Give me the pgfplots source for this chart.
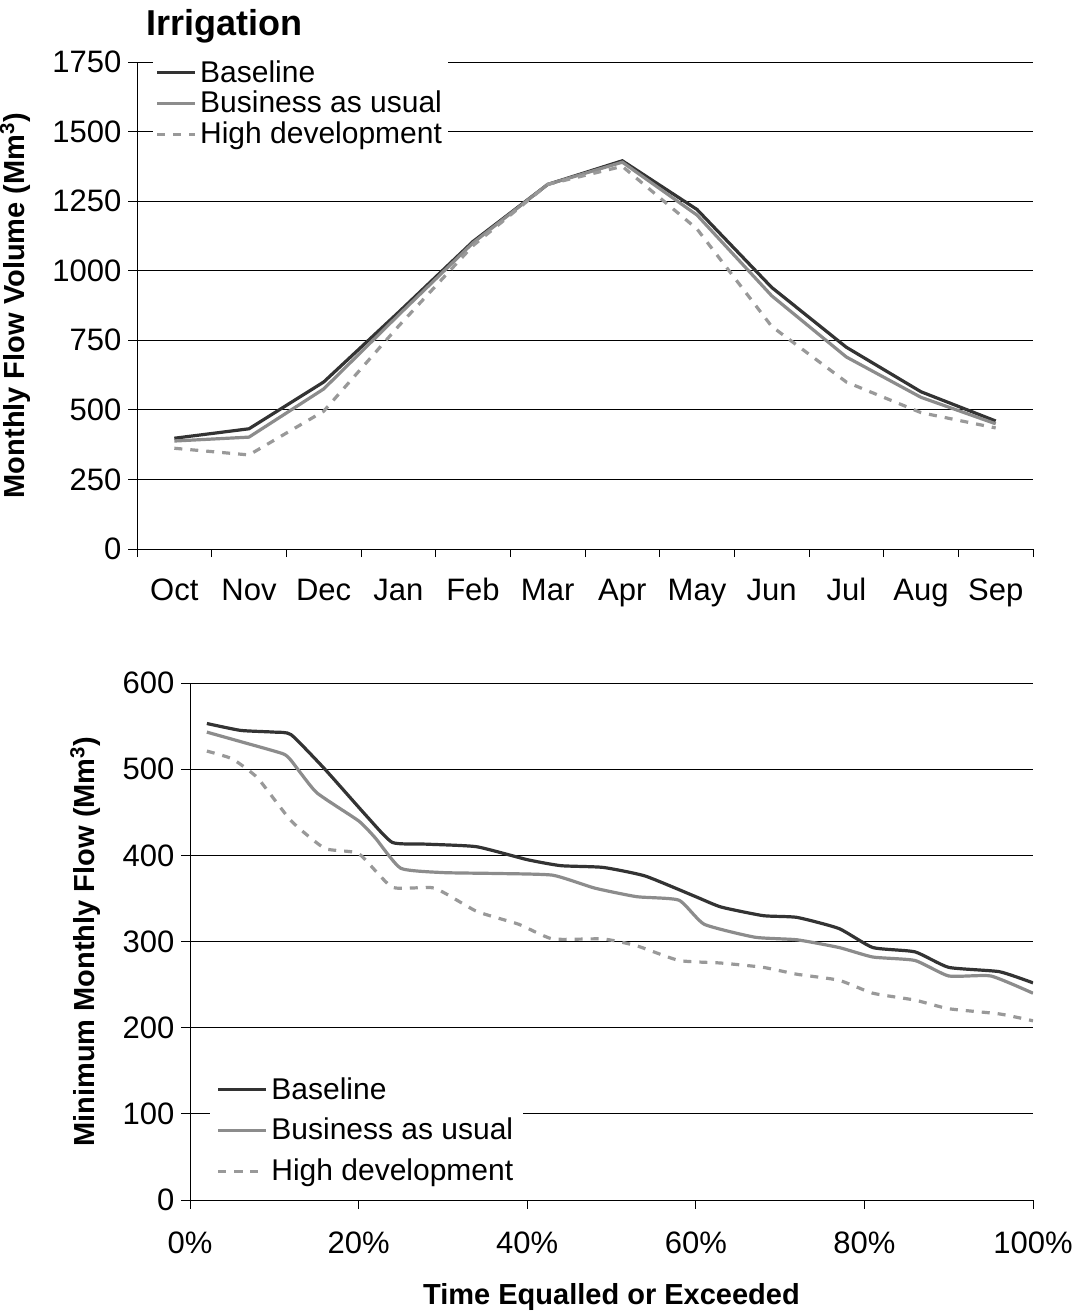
\documentclass[border=0pt]{standalone}
\usepackage{fontspec}
\setmainfont{Liberation Sans}
\usepackage{pgfplots}
\pgfplotsset{compat=1.18}
\begin{document}
\begin{tikzpicture}
\path[use as bounding box] (0pt,0pt) rectangle (539.5pt,-657.5pt);
\pgfplotsset{
  common/.style={
    scale only axis, axis x line*=bottom, axis y line*=left,
    ymajorgrids, major grid style={black,line width=0.4pt},
    tick align=outside, tick style={black,line width=0.4pt},
    axis line style={black,line width=0.4pt},
    ticklabel style={font=\fontsize{15.5}{17}\selectfont},
    /pgf/number format/assume math mode=true,
    /pgf/number format/1000 sep={},
    legend style={draw=none,fill=white,font=\fontsize{15}{16}\selectfont, row sep=-1pt},
    legend cell align=left,
  },
  bl/.style={line width=1.6pt,color=black!80},
  bu/.style={line width=1.6pt,color=black!45},
  hd/.style={line width=1.6pt,color=black!40,dash pattern=on 4pt off 4pt},
}
\begin{axis}[common, at={(68.5pt,-274.5pt)}, anchor=south west,
  width=448pt, height=243.5pt,
  xmin=-0.5, xmax=11.5, ymin=0, ymax=1750,
  ytick={0,250,...,1750},
  xtick={0,...,11}, major x tick style={draw=none},
  xticklabels={Oct,Nov,Dec,Jan,Feb,Mar,Apr,May,Jun,Jul,Aug,Sep},
  minor xtick={-0.5,0.5,...,11.5}, minor tick length=4pt,
  xticklabel style={yshift=-8pt, text height=10pt, text depth=3pt},
  ylabel={\textbf{Monthly Flow Volume (Mm\textsuperscript{3})}},
  ylabel style={font=\fontsize{14.5}{16}\selectfont, yshift=4pt},
  title={\textbf{Irrigation}}, title style={font=\fontsize{18}{20}\selectfont, at={(0,1)}, anchor=south west, xshift=1pt, yshift=0pt},
  legend style={at={(0.0,1.0)},anchor=north west, xshift=8pt,yshift=4pt, inner sep=1pt},
  legend image post style={xscale=1.1},
]
\addplot[bl] coordinates {(0,398)(1,432)(2,600)(3,850)(4,1105)(5,1310)(6,1395)(7,1220)(8,940)(9,725)(10,565)(11,460)};
\addplot[bu] coordinates {(0,388)(1,402)(2,575)(3,840)(4,1100)(5,1310)(6,1390)(7,1200)(8,910)(9,690)(10,545)(11,450)};
\addplot[hd] coordinates {(0,362)(1,338)(2,495)(3,800)(4,1090)(5,1310)(6,1375)(7,1150)(8,800)(9,600)(10,490)(11,435)};
\legend{Baseline,Business as usual,High development}
\end{axis}
\begin{axis}[common, at={(95pt,-600pt)}, anchor=south west,
  width=421.5pt, height=258.5pt,
  xmin=0, xmax=100, ymin=0, ymax=600,
  ytick={0,100,...,600}, xtick={0,20,...,100},
  xticklabel={\pgfmathprintnumber{\tick}\%},
  xticklabel style={yshift=-8pt},
  ylabel={\textbf{Minimum Monthly Flow (Mm\textsuperscript{3})}},
  ylabel style={font=\fontsize{14.5}{16}\selectfont, yshift=4pt},
  xlabel={\textbf{Time Equalled or Exceeded}},
  xlabel style={font=\fontsize{14.5}{16}\selectfont, yshift=-8pt},
  legend style={at={(0.0,0.0)},anchor=south west, xshift=10pt,yshift=4pt, row sep=4pt},
  legend image post style={xscale=1.4},
]
\addplot[bl,smooth,tension=0.3] coordinates {(2,553)(6,545)(10,543)(12,540)(16,500)(21,445)(24,415)(28,413)(34,410)(40,395)(44,388)(49,386)(54,376)(60,352)(63,340)(68,330)(72,328)(77,315)(81,293)(86,288)(90,270)(96,265)(100,252)};
\addplot[bu,smooth,tension=0.3] coordinates {(2,543)(6,532)(11,518)(12,510)(15,473)(20,440)(22,420)(25,385)(30,380)(36,379)(43,377)(48,362)(53,352)(58,348)(61,320)(67,305)(72,302)(77,293)(81,282)(86,278)(90,260)(95,260)(100,240)};
\addplot[hd,smooth,tension=0.3] coordinates {(2,521)(5,512)(8,490)(12,440)(16,408)(20,402)(24,363)(29,362)(34,335)(39,320)(43,303)(49,303)(53,295)(58,278)(63,275)(68,270)(72,262)(77,255)(81,240)(86,232)(90,222)(96,216)(100,208)};
\legend{Baseline,Business as usual,High development}
\end{axis}
\end{tikzpicture}
\end{document}
